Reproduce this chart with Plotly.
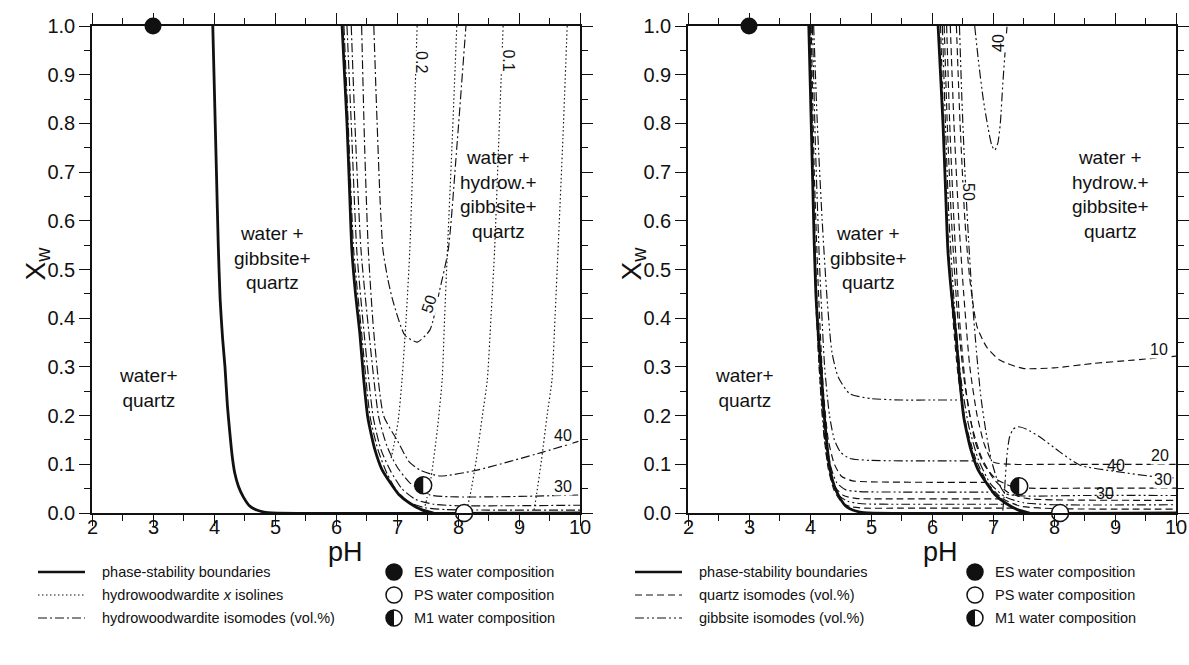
import math
import plotly.graph_objects as go

# ---------------- data ----------------
# phase-stability boundaries (shared by both panels)
B1_X = [3.98, 4.01, 4.04, 4.07, 4.10, 4.14, 4.18, 4.22, 4.26, 4.30, 4.34, 4.40, 4.48, 4.58, 4.70, 4.82, 4.95, 10.0]
B1_Y = [1.0, 0.85, 0.70, 0.55, 0.44, 0.36, 0.30, 0.22, 0.164, 0.115, 0.082, 0.055, 0.033, 0.015, 0.006, 0.002, 0.0, 0.0]
B2_X = [6.10, 6.14, 6.18, 6.22, 6.26, 6.32, 6.39, 6.45, 6.52, 6.58, 6.64, 6.75, 6.89, 7.03, 7.21, 7.40, 7.60]
B2_Y = [1.0, 0.9, 0.8, 0.67, 0.54, 0.45, 0.37, 0.28, 0.197, 0.16, 0.129, 0.09, 0.062, 0.038, 0.02, 0.007, 0.0]

# left panel: hydrowoodwardite isomodes (vol.%)
H10_X = [6.13, 6.20, 6.29, 6.42, 6.56, 6.69, 6.84, 7.00, 7.20, 7.45, 7.8, 8.5, 10.0]
H10_Y = [1.0, 0.8, 0.54, 0.37, 0.197, 0.129, 0.08, 0.045, 0.022, 0.011, 0.007, 0.006, 0.006]
H20_X = [6.18, 6.25, 6.34, 6.46, 6.61, 6.74, 6.90, 7.08, 7.30, 7.6, 8.0, 9.0, 10.0]
H20_Y = [1.0, 0.8, 0.54, 0.37, 0.197, 0.129, 0.085, 0.05, 0.028, 0.018, 0.015, 0.015, 0.016]
H30_X = [6.25, 6.31, 6.41, 6.54, 6.70, 6.84, 7.00, 7.21, 7.54, 7.98, 9.0, 10.0]
H30_Y = [1.0, 0.8, 0.54, 0.37, 0.197, 0.136, 0.095, 0.062, 0.037, 0.033, 0.034, 0.037]
H40_X = [6.42, 6.47, 6.53, 6.62, 6.78, 7.0, 7.2, 7.38, 7.7, 8.31, 9.39, 10.0]
H40_Y = [1.0, 0.75, 0.54, 0.37, 0.2, 0.15, 0.105, 0.088, 0.076, 0.088, 0.125, 0.148]
H50_X = [6.62, 6.66, 6.72, 6.77, 6.85, 6.93, 7.13, 7.33, 7.54, 7.70, 7.84, 7.98, 8.13]
H50_Y = [1.0, 0.85, 0.65, 0.54, 0.48, 0.437, 0.365, 0.351, 0.376, 0.458, 0.54, 0.75, 1.0]

# left panel: hydrowoodwardite x isolines
I1_X = [7.33, 7.28, 7.21, 7.15, 7.08, 7.02, 6.95, 6.90]
I1_Y = [1.0, 0.8, 0.54, 0.4, 0.27, 0.19, 0.14, 0.11]
I2_X = [7.98, 7.90, 7.82, 7.78, 7.74, 7.66, 7.56, 7.49, 7.45]
I2_Y = [1.0, 0.75, 0.52, 0.4, 0.273, 0.17, 0.074, 0.03, 0.01]
I3_X = [8.74, 8.67, 8.60, 8.54, 8.48, 8.40, 8.30, 8.22, 8.15, 8.12]
I3_Y = [1.0, 0.77, 0.54, 0.4, 0.273, 0.2, 0.11, 0.05, 0.01, 0.0]
I4_X = [9.79, 9.72, 9.64, 9.59, 9.54, 9.46, 9.37, 9.29, 9.24]
I4_Y = [1.0, 0.77, 0.54, 0.4, 0.273, 0.2, 0.11, 0.04, 0.0]

# right panel: isomodes between the two boundaries
GA_X = [4.06, 4.12, 4.20, 4.28, 4.36, 4.46, 4.65, 5.0, 5.5, 6.0, 6.48]
GA_Y = [1.0, 0.8, 0.6, 0.44, 0.33, 0.28, 0.245, 0.235, 0.232, 0.232, 0.232]
GB_X = [4.04, 4.09, 4.16, 4.24, 4.32, 4.40, 4.50, 4.65, 5.0, 6.0, 6.70]
GB_Y = [1.0, 0.75, 0.5, 0.3, 0.2, 0.15, 0.125, 0.112, 0.108, 0.107, 0.107]
QC_X = [4.02, 4.07, 4.14, 4.22, 4.30, 4.40, 4.52, 4.7, 5.0, 6.0, 6.90]
QC_Y = [1.0, 0.7, 0.45, 0.25, 0.15, 0.1, 0.075, 0.066, 0.064, 0.063, 0.063]
GD_X = [4.01, 4.05, 4.11, 4.18, 4.26, 4.34, 4.44, 4.58, 4.8, 5.5, 6.5, 7.03]
GD_Y = [1.0, 0.7, 0.45, 0.28, 0.16, 0.095, 0.062, 0.048, 0.044, 0.043, 0.043, 0.043]
QE_X = [4.00, 4.04, 4.09, 4.16, 4.24, 4.32, 4.42, 4.55, 4.75, 5.5, 6.5, 7.15]
QE_Y = [1.0, 0.7, 0.45, 0.28, 0.16, 0.09, 0.052, 0.036, 0.03, 0.029, 0.029, 0.029]
GF_X = [4.13, 4.20, 4.28, 4.37, 4.48, 4.62, 4.85, 5.5, 6.5, 7.26]
GF_Y = [0.35, 0.2, 0.11, 0.06, 0.035, 0.024, 0.019, 0.018, 0.018, 0.018]
QG_X = [4.22, 4.30, 4.40, 4.52, 4.66, 4.9, 5.5, 6.5, 7.38]
QG_Y = [0.17, 0.09, 0.045, 0.022, 0.013, 0.010, 0.010, 0.010, 0.010]

# right panel: quartz isomodes right of the second boundary
Q10_X = [6.40, 6.46, 6.54, 6.62, 6.74, 6.90, 7.11, 7.49, 8.0, 8.64, 9.3, 10.0]
Q10_Y = [1.0, 0.8, 0.6, 0.48, 0.382, 0.34, 0.314, 0.297, 0.298, 0.307, 0.314, 0.322]
Q20_X = [6.30, 6.36, 6.44, 6.52, 6.62, 6.74, 6.86, 7.0, 7.3, 8.0, 9.0, 10.0]
Q20_Y = [1.0, 0.8, 0.6, 0.45, 0.3, 0.2, 0.14, 0.105, 0.1, 0.1, 0.1, 0.1]
Q30_X = [6.24, 6.29, 6.36, 6.45, 6.56, 6.70, 6.85, 7.05, 7.3, 7.6, 8.5, 10.0]
Q30_Y = [1.0, 0.8, 0.6, 0.4, 0.25, 0.15, 0.1, 0.07, 0.055, 0.051, 0.051, 0.051]
Q40_X = [6.20, 6.25, 6.32, 6.41, 6.52, 6.65, 6.81, 7.01, 7.25, 7.55, 8.0, 10.0]
Q40_Y = [1.0, 0.8, 0.6, 0.42, 0.28, 0.18, 0.115, 0.07, 0.042, 0.03, 0.027, 0.026]
Q60_X = [6.14, 6.19, 6.25, 6.33, 6.43, 6.56, 6.72, 6.92, 7.15, 7.45, 8.0, 10.0]
Q60_Y = [1.0, 0.8, 0.6, 0.42, 0.28, 0.18, 0.11, 0.06, 0.03, 0.014, 0.009, 0.008]

# right panel: gibbsite isomodes right of the second boundary
G50_X = [6.45, 6.49, 6.54, 6.60, 6.66, 6.73, 6.80, 6.88, 6.97, 7.08, 7.2, 7.5, 8.5, 10.0]
G50_Y = [1.0, 0.85, 0.7, 0.56, 0.44, 0.33, 0.24, 0.17, 0.11, 0.065, 0.04, 0.035, 0.036, 0.036]
G55_X = [6.17, 6.22, 6.28, 6.37, 6.47, 6.60, 6.76, 6.96, 7.2, 7.5, 8.0, 10.0]
G55_Y = [1.0, 0.8, 0.6, 0.42, 0.28, 0.18, 0.11, 0.06, 0.033, 0.021, 0.017, 0.017]
G40U_X = [6.70, 6.76, 6.84, 6.92, 6.98, 7.03, 7.08, 7.12, 7.16, 7.20, 7.23]
G40U_Y = [1.0, 0.93, 0.85, 0.79, 0.755, 0.745, 0.76, 0.8, 0.88, 0.95, 1.0]
G40B_X = [7.16, 7.18, 7.20, 7.23, 7.27, 7.33, 7.41, 7.55, 7.77, 8.1, 8.43, 9.03, 9.69, 10.0]
G40B_Y = [0.005, 0.03, 0.068, 0.12, 0.155, 0.172, 0.177, 0.172, 0.156, 0.125, 0.098, 0.085, 0.074, 0.072]

# sample compositions (pH, Xw)
ES = (3.0, 1.0)
PS = (8.1, 0.0)
M1_LEFT = (7.43, 0.057)
M1_RIGHT = (7.43, 0.055)

X_TICKS = [2, 3, 4, 5, 6, 7, 8, 9, 10]
X_TICK_TEXT = ["2", "3", "4", "5", "6", "7", "8", "9", "10"]
Y_TICKS = [0.0, 0.1, 0.2, 0.3, 0.4, 0.5, 0.6, 0.7, 0.8, 0.9, 1.0]
Y_TICK_TEXT = ["0.0", "0.1", "0.2", "0.3", "0.4", "0.5", "0.6", "0.7", "0.8", "0.9", "1.0"]

# ---------------- styling ----------------
W, H = 1189, 665
FONT = "Liberation Sans, Arial, sans-serif"
BLACK = "#111111"
SOLID_W = 2.8
THIN_W = 1.15
DOT = "1.5px,2.5px"
HDASHDOT = "9px,3px,2px,3px"
QDASH = "7px,4px"
GDDOT = "9px,3px,2px,3px,2px,3px"

# plot areas in pixels: (left, right, top, bottom)
LEFT_BOX = (92, 580, 26, 513)
RIGHT_BOX = (688, 1176, 26, 513)


def px(xp):
    return xp / W


def py(yp):
    return 1 - yp / H


fig = go.Figure()


def line(xs, ys, ax, dash="solid", width=THIN_W):
    xa, ya = ("x", "y") if ax == 1 else ("x2", "y2")
    fig.add_trace(go.Scatter(
        x=xs, y=ys, mode="lines", xaxis=xa, yaxis=ya,
        line=dict(color=BLACK, width=width, dash=dash, shape="spline", smoothing=0.6),
        hoverinfo="skip", showlegend=False))


# left panel
for xs, ys in [(I1_X, I1_Y), (I2_X, I2_Y), (I3_X, I3_Y), (I4_X, I4_Y)]:
    line(xs, ys, 1, DOT)
for xs, ys in [(H10_X, H10_Y), (H20_X, H20_Y), (H30_X, H30_Y), (H40_X, H40_Y), (H50_X, H50_Y)]:
    line(xs, ys, 1, HDASHDOT)
line(B1_X, B1_Y, 1, width=SOLID_W)
line(B2_X, B2_Y, 1, width=SOLID_W)

# right panel
for xs, ys in [(QC_X, QC_Y), (QE_X, QE_Y), (QG_X, QG_Y),
               (Q10_X, Q10_Y), (Q20_X, Q20_Y), (Q30_X, Q30_Y), (Q40_X, Q40_Y), (Q60_X, Q60_Y)]:
    line(xs, ys, 2, QDASH)
for xs, ys in [(GA_X, GA_Y), (GB_X, GB_Y), (GD_X, GD_Y), (GF_X, GF_Y),
               (G50_X, G50_Y), (G55_X, G55_Y), (G40U_X, G40U_Y), (G40B_X, G40B_Y)]:
    line(xs, ys, 2, GDDOT)
line(B1_X, B1_Y, 2, width=SOLID_W)
line(B2_X, B2_Y, 2, width=SOLID_W)

MSIZE = 17


def half_disc_path(r):
    pts = []
    for k in range(0, 25):
        a = math.pi / 2 + math.pi * k / 24
        pts.append(f"{r * math.cos(a):.2f},{r * math.sin(a):.2f}")
    return "M " + " L ".join(pts) + " Z"


shapes = []
for ax, m1 in [(1, M1_LEFT), (2, M1_RIGHT)]:
    xa, ya = ("x", "y") if ax == 1 else ("x2", "y2")
    fig.add_trace(go.Scatter(x=[ES[0]], y=[ES[1]], mode="markers", xaxis=xa, yaxis=ya,
                             marker=dict(size=MSIZE, color=BLACK, line=dict(width=0)),
                             cliponaxis=False, hoverinfo="skip", showlegend=False))
    fig.add_trace(go.Scatter(x=[PS[0], m1[0]], y=[PS[1], m1[1]], mode="markers", xaxis=xa, yaxis=ya,
                             marker=dict(size=MSIZE, color="white", line=dict(width=1.5, color=BLACK)),
                             cliponaxis=False, hoverinfo="skip", showlegend=False))
    shapes.append(dict(type="path", xref=xa, yref=ya, xsizemode="pixel", ysizemode="pixel",
                       xanchor=m1[0], yanchor=m1[1], path=half_disc_path(MSIZE / 2),
                       fillcolor=BLACK, line=dict(width=0), layer="above"))

annotations = []


def note(**kw):
    kw.setdefault("showarrow", False)
    kw.setdefault("xanchor", "center")
    kw.setdefault("yanchor", "middle")
    annotations.append(kw)


def label(text, x, y, ax, size=17, angle=0, bg=None):
    xa, ya = ("x", "y") if ax == 1 else ("x2", "y2")
    d = dict(text=text, x=x, y=y, xref=xa, yref=ya, textangle=angle,
             font=dict(family=FONT, size=size, color=BLACK))
    if bg:
        d["bgcolor"] = bg
        d["borderpad"] = 0
    note(**d)


# phase-field names
for ax in (1, 2):
    label("water+<br>quartz", 2.92, 0.257, ax, size=19)
    label("water +<br>gibbsite+<br>quartz", 4.96, 0.524, ax, size=19)
label("water +<br>hydrow.+<br>gibbsite+<br>quartz", 8.66, 0.653, 1, size=19)
label("water +<br>hydrow.+<br>gibbsite+<br>quartz", 8.92, 0.653, 2, size=19)

# contour labels, left panel
label("0.2", 7.40, 0.925, 1, 16, 90, "white")
label("0.1", 8.83, 0.93, 1, 16, 90, "white")
label("50", 7.53, 0.43, 1, 16, -72, "white")
label("40", 9.72, 0.16, 1, 16, 0, "white")
label("30", 9.72, 0.055, 1, 16, 0, "white")
# contour labels, right panel
label("40", 7.08, 0.965, 2, 16, -90, "white")
label("50", 6.60, 0.66, 2, 16, 90, "white")
label("10", 9.72, 0.335, 2, 16, 0, "white")
label("20", 9.74, 0.118, 2, 16, 0, "white")
label("30", 9.78, 0.068, 2, 16, 0, "white")
label("40", 9.02, 0.097, 2, 16, 0, None)
label("30", 8.84, 0.041, 2, 16, 0, None)

# x tick labels sit a little closer to the axis than plotly's default
TICK_FONT = dict(family=FONT, size=20, color=BLACK)
for xa in ("x", "x2"):
    for v, t in zip(X_TICKS, X_TICK_TEXT):
        note(text=t, x=v, y=py(527), xref=xa, yref="paper", font=TICK_FONT)

# axis titles
for box in (LEFT_BOX, RIGHT_BOX):
    cx = (box[0] + box[1]) / 2
    note(text="pH", x=px(cx + 9), y=py(552), xref="paper", yref="paper",
         font=dict(family=FONT, size=27, color=BLACK))
    note(text="X<sub>w</sub>", x=px(box[0] - 55), y=py((box[2] + box[3]) / 2 - 6),
         xref="paper", yref="paper", textangle=-90,
         font=dict(family=FONT, size=28, color=BLACK))

# legends below each panel
ROWS = [572, 595, 618]
LEG_FONT = dict(family=FONT, size=14.5, color=BLACK)


def legend_block(x0, entries, mx):
    for (dash, width, text), yp in zip(entries, ROWS):
        shapes.append(dict(type="line", xref="paper", yref="paper",
                           x0=px(x0), x1=px(x0 + 47), y0=py(yp), y1=py(yp),
                           line=dict(color=BLACK, width=width, dash=dash)))
        note(text=text, x=px(x0 + 62), y=py(yp), xref="paper", yref="paper",
             xanchor="left", font=LEG_FONT)
    r = 8
    comps = ["ES water composition", "PS water composition", "M1 water composition"]
    for i, (yp, text) in enumerate(zip(ROWS, comps)):
        shapes.append(dict(type="circle", xref="paper", yref="paper", xsizemode="pixel",
                           ysizemode="pixel", xanchor=px(mx), yanchor=py(yp),
                           x0=-r, x1=r, y0=-r, y1=r,
                           fillcolor=BLACK if i == 0 else "white",
                           line=dict(color=BLACK, width=1.5)))
        if i == 2:
            shapes.append(dict(type="path", xref="paper", yref="paper", xsizemode="pixel",
                               ysizemode="pixel", xanchor=px(mx), yanchor=py(yp),
                               path=half_disc_path(r), fillcolor=BLACK, line=dict(width=0)))
        note(text=text, x=px(mx + 18), y=py(yp), xref="paper", yref="paper",
             xanchor="left", font=LEG_FONT)


legend_block(38, [("solid", 2.4, "phase-stability boundaries"),
                  (DOT, 1, "hydrowoodwardite <i>x</i> isolines"),
                  (HDASHDOT, 1, "hydrowoodwardite isomodes (vol.%)")], 394)
legend_block(635, [("solid", 2.4, "phase-stability boundaries"),
                   (QDASH, 1, "quartz isomodes (vol.%)"),
                   (GDDOT, 1, "gibbsite isomodes (vol.%)")], 975)

axis_common = dict(showline=True, linecolor=BLACK, linewidth=1.6, mirror="ticks",
                   ticks="outside", ticklen=11, tickwidth=1.4, tickcolor=BLACK,
                   showgrid=False, zeroline=False, automargin=False,
                   tickfont=TICK_FONT)
xaxis_common = dict(axis_common, range=[2, 10], tickvals=X_TICKS, showticklabels=False,
                    minor=dict(dtick=0.5, tick0=2, ticklen=6, tickwidth=1.2, tickcolor=BLACK, ticks="outside"))
yaxis_common = dict(axis_common, range=[0, 1], tickvals=Y_TICKS, ticktext=Y_TICK_TEXT,
                    minor=dict(dtick=0.05, tick0=0, ticklen=6, tickwidth=1.2, tickcolor=BLACK, ticks="outside"))

fig.update_layout(
    width=W, height=H, margin=dict(l=0, r=0, t=0, b=0, autoexpand=False),
    paper_bgcolor="white", plot_bgcolor="white",
    xaxis=dict(xaxis_common, domain=[px(LEFT_BOX[0]), px(LEFT_BOX[1])], anchor="y"),
    yaxis=dict(yaxis_common, domain=[py(LEFT_BOX[3]), py(LEFT_BOX[2])], anchor="x"),
    xaxis2=dict(xaxis_common, domain=[px(RIGHT_BOX[0]), px(RIGHT_BOX[1])], anchor="y2"),
    yaxis2=dict(yaxis_common, domain=[py(RIGHT_BOX[3]), py(RIGHT_BOX[2])], anchor="x2"),
    shapes=shapes, annotations=annotations, showlegend=False,
)

fig.write_html("out.html")
